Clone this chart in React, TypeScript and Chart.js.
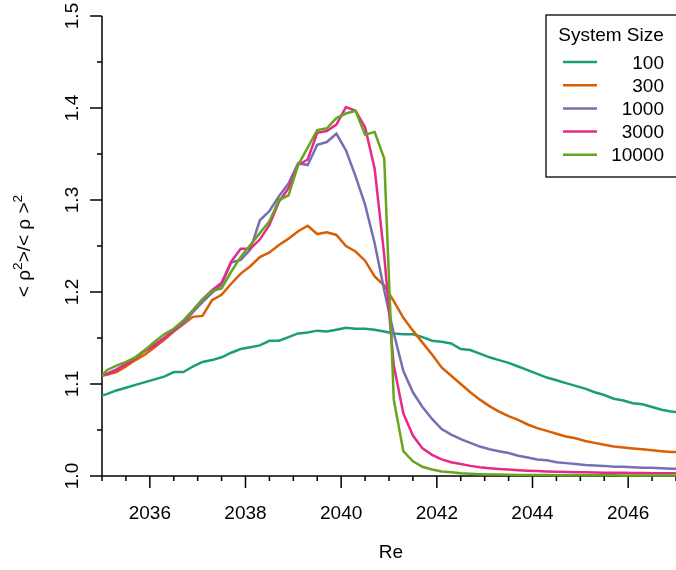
import React, { useEffect, useRef } from 'react';
import { Chart, registerables } from 'chart.js';

Chart.register(...registerables);

// ---------------- data ----------------
const reValues = [
  2034.9,
  2035.1, 2035.3, 2035.5, 2035.7, 2035.9,
  2036.1, 2036.3, 2036.5, 2036.7, 2036.9,
  2037.1, 2037.3, 2037.5, 2037.7, 2037.9,
  2038.1, 2038.3, 2038.5, 2038.7, 2038.9,
  2039.1, 2039.3, 2039.5, 2039.7, 2039.9,
  2040.1, 2040.3, 2040.5, 2040.7, 2040.9,
  2041.1, 2041.3, 2041.5, 2041.7, 2041.9,
  2042.1, 2042.3, 2042.5, 2042.7, 2042.9,
  2043.1, 2043.3, 2043.5, 2043.7, 2043.9,
  2044.1, 2044.3, 2044.5, 2044.7, 2044.9,
  2045.1, 2045.3, 2045.5, 2045.7, 2045.9,
  2046.1, 2046.3, 2046.5, 2046.7, 2046.9,
  2047.1,
];

const size100 = [
  1.086,
  1.089, 1.093, 1.096, 1.099, 1.102,
  1.105, 1.108, 1.113, 1.113, 1.119,
  1.124, 1.126, 1.129, 1.134, 1.138,
  1.140, 1.142, 1.147, 1.147, 1.151,
  1.155, 1.156, 1.158, 1.157, 1.159,
  1.161, 1.160, 1.160, 1.159, 1.157,
  1.155, 1.154, 1.154, 1.151, 1.147,
  1.146, 1.144, 1.138, 1.137, 1.133,
  1.129, 1.126, 1.123, 1.119, 1.115,
  1.111, 1.107, 1.104, 1.101, 1.098,
  1.095, 1.091, 1.088, 1.084, 1.082,
  1.079, 1.078, 1.075, 1.072, 1.070,
  1.069,
];

const size300 = [
  1.108,
  1.110, 1.113, 1.119, 1.126, 1.132,
  1.140, 1.148, 1.157, 1.165, 1.173,
  1.174, 1.191, 1.197, 1.209, 1.220,
  1.228, 1.238, 1.243, 1.251, 1.258,
  1.266, 1.272, 1.263, 1.265, 1.262,
  1.250, 1.244, 1.234, 1.217, 1.207,
  1.190, 1.172, 1.158, 1.145, 1.132,
  1.118, 1.109, 1.100, 1.091, 1.083,
  1.076, 1.070, 1.065, 1.061, 1.056,
  1.052, 1.049, 1.046, 1.043, 1.041,
  1.038, 1.036, 1.034, 1.032, 1.031,
  1.030, 1.029, 1.028, 1.027, 1.026,
  1.026,
];

const size1000 = [
  1.107,
  1.111, 1.116, 1.122, 1.129, 1.137,
  1.143, 1.150, 1.158, 1.166, 1.178,
  1.189, 1.199, 1.208, 1.232, 1.235,
  1.246, 1.278, 1.288, 1.304, 1.318,
  1.340, 1.338, 1.360, 1.363, 1.372,
  1.354, 1.326, 1.295, 1.253, 1.202,
  1.155, 1.114, 1.091, 1.075, 1.062,
  1.051, 1.045, 1.040, 1.036, 1.032,
  1.029, 1.027, 1.025, 1.022, 1.020,
  1.018, 1.017, 1.015, 1.014, 1.013,
  1.012, 1.0115, 1.011, 1.010, 1.010,
  1.0095, 1.009, 1.009, 1.0085, 1.008,
  1.008,
];

const size3000 = [
  1.107,
  1.111, 1.115, 1.121, 1.128, 1.136,
  1.142, 1.150, 1.158, 1.168, 1.180,
  1.192, 1.202, 1.210, 1.233, 1.247,
  1.247, 1.257, 1.273, 1.298, 1.313,
  1.338, 1.344, 1.373, 1.375, 1.382,
  1.401, 1.397, 1.379, 1.334, 1.240,
  1.120, 1.068, 1.044, 1.030, 1.023,
  1.018, 1.015, 1.013, 1.011, 1.0095,
  1.0085, 1.0077, 1.007, 1.0063, 1.0058,
  1.0054, 1.005, 1.0047, 1.0044, 1.0042,
  1.004, 1.0038, 1.0036, 1.0035, 1.0034,
  1.0033, 1.0032, 1.0031, 1.003, 1.003,
  1.003,
];

const size10000 = [
  1.103,
  1.115, 1.120, 1.124, 1.129, 1.137,
  1.146, 1.154, 1.160, 1.169, 1.180,
  1.192, 1.201, 1.204, 1.222, 1.238,
  1.251, 1.264, 1.277, 1.300, 1.305,
  1.338, 1.357, 1.376, 1.378, 1.389,
  1.394, 1.397, 1.371, 1.374, 1.345,
  1.083, 1.027, 1.016, 1.010, 1.007,
  1.005, 1.004, 1.003, 1.0025, 1.002,
  1.0017, 1.0015, 1.0013, 1.0012, 1.0011,
  1.001, 1.001, 1.0009, 1.0009, 1.0008,
  1.0008, 1.0007, 1.0007, 1.0007, 1.0006,
  1.0006, 1.0006, 1.0005, 1.0005, 1.0005,
  1.0005,
];

const seriesLabels = ['100', '300', '1000', '3000', '10000'];
const seriesValues = [size100, size300, size1000, size3000, size10000];
const seriesColors = ['#1B9E77', '#D95F02', '#7570B3', '#E7298A', '#66A61E'];

const xRange = [2035, 2047];
const yRange = [1.0, 1.5];
const xLabelTicks = [2036, 2038, 2040, 2042, 2044, 2046];
const yLabelTicks = ['1.0', '1.1', '1.2', '1.3', '1.4', '1.5'];
const xTitle = 'Re';
const legendTitle = 'System Size';

// ---------------- styling ----------------
const FONT_FAMILY = '"Liberation Sans", Arial, Helvetica, sans-serif';
const FONT_SIZE = 19;

function strokeLine(ctx: CanvasRenderingContext2D, x1: number, y1: number, x2: number, y2: number) {
  ctx.beginPath();
  ctx.moveTo(x1, y1);
  ctx.lineTo(x2, y2);
  ctx.stroke();
}

const axesPlugin = {
  id: 'rStyleAxes',
  beforeDatasetsDraw(chart: any) {
    const ctx: CanvasRenderingContext2D = chart.ctx;
    const xs = chart.scales.x;
    const ys = chart.scales.y;
    ctx.save();
    ctx.strokeStyle = '#000';
    ctx.fillStyle = '#000';
    ctx.lineWidth = 1.5;
    ctx.lineCap = 'butt';

    const axisY = ys.getPixelForValue(yRange[0]);
    const axisX = xs.getPixelForValue(xRange[0]);

    // x axis line + ticks
    strokeLine(ctx, axisX, axisY, xs.getPixelForValue(xRange[1]) + 2, axisY);
    const nx = Math.round((xRange[1] - xRange[0]) / 0.5);
    for (let k = 0; k <= nx; k++) {
      const v = xRange[0] + k * 0.5;
      const px = xs.getPixelForValue(v);
      const major = xLabelTicks.indexOf(v) >= 0;
      strokeLine(ctx, px, axisY, px, axisY + (major ? 12 : 5));
    }
    ctx.font = `${FONT_SIZE}px ${FONT_FAMILY}`;
    ctx.textAlign = 'center';
    ctx.textBaseline = 'alphabetic';
    for (const v of xLabelTicks) {
      ctx.fillText(String(v), xs.getPixelForValue(v), axisY + 43);
    }
    ctx.fillText(xTitle, (chart.chartArea.left + chart.chartArea.right) / 2 + 2, axisY + 82);

    // y axis line + ticks
    const topY = ys.getPixelForValue(yRange[1]);
    strokeLine(ctx, axisX, topY, axisX, axisY);
    const ny = Math.round((yRange[1] - yRange[0]) / 0.05);
    for (let k = 0; k <= ny; k++) {
      const v = yRange[0] + k * 0.05;
      const py = ys.getPixelForValue(v);
      strokeLine(ctx, axisX - (k % 2 === 0 ? 12 : 5), py, axisX, py);
    }
    for (const lab of yLabelTicks) {
      const py = ys.getPixelForValue(parseFloat(lab));
      ctx.save();
      ctx.translate(axisX - 24, py);
      ctx.rotate(-Math.PI / 2);
      ctx.fillText(lab, 0, 0);
      ctx.restore();
    }

    // y title: < rho^2 >/< rho >^2
    const parts: Array<[string, boolean]> = [
      ['< \u03c1', false],
      ['2', true],
      ['>/< \u03c1 >', false],
      ['2', true],
    ];
    const mainFont = `${FONT_SIZE}px ${FONT_FAMILY}`;
    const supFont = `${FONT_SIZE * 0.72}px ${FONT_FAMILY}`;
    let total = 0;
    for (const [t, sup] of parts) {
      ctx.font = sup ? supFont : mainFont;
      total += ctx.measureText(t).width;
    }
    const cy = (ys.getPixelForValue(yRange[0]) + ys.getPixelForValue(yRange[1])) / 2;
    ctx.save();
    ctx.translate(axisX - 72, cy);
    ctx.rotate(-Math.PI / 2);
    ctx.textAlign = 'left';
    let cx = -total / 2;
    for (const [t, sup] of parts) {
      ctx.font = sup ? supFont : mainFont;
      ctx.fillText(t, cx, sup ? -8 : 0);
      cx += ctx.measureText(t).width;
    }
    ctx.restore();

    ctx.restore();
  },
};

const legendPlugin = {
  id: 'rStyleLegend',
  afterDatasetsDraw(chart: any) {
    const ctx: CanvasRenderingContext2D = chart.ctx;
    const ca = chart.chartArea;
    const left = ca.right - 130;
    const top = ca.top - 1;
    const right = ca.right + 2;
    const bottom = ca.top + 161;
    ctx.save();
    ctx.fillStyle = '#fff';
    ctx.fillRect(left, top, right - left, bottom - top);
    ctx.strokeStyle = '#000';
    ctx.lineWidth = 1.3;
    ctx.strokeRect(left, top, right - left, bottom - top);

    ctx.fillStyle = '#000';
    ctx.font = `${FONT_SIZE}px ${FONT_FAMILY}`;
    ctx.textBaseline = 'alphabetic';
    ctx.textAlign = 'center';
    ctx.fillText(legendTitle, (left + right) / 2 - 1, top + 26);

    const datasets = chart.data.datasets;
    ctx.textAlign = 'right';
    for (let i = 0; i < datasets.length; i++) {
      const yy = top + 47 + i * 23.2;
      ctx.strokeStyle = datasets[i].borderColor;
      ctx.lineWidth = 2.5;
      strokeLine(ctx, left + 17, yy, left + 51, yy);
      ctx.fillStyle = '#000';
      ctx.fillText(datasets[i].label, left + 118, yy + 6.5);
    }
    ctx.restore();
  },
};

export default function App() {
  const canvasRef = useRef<HTMLCanvasElement | null>(null);

  useEffect(() => {
    const canvas = canvasRef.current;
    if (!canvas) return;
    const datasets = seriesLabels.map((label, i) => ({
      label,
      data: reValues.map((x, j) => ({ x, y: seriesValues[i][j] })),
      borderColor: seriesColors[i],
      backgroundColor: seriesColors[i],
      borderWidth: 2.5,
      pointRadius: 0,
      tension: 0,
      fill: false,
      order: seriesLabels.length - i,
      clip: { left: 0, top: 2, right: 0, bottom: 3 },
    }));
    const chart = new Chart(canvas, {
      type: 'line',
      data: { datasets },
      options: {
        animation: false,
        responsive: false,
        events: [],
        layout: { padding: { left: 102, top: 16, right: 0, bottom: 94 } },
        plugins: {
          legend: { display: false },
          tooltip: { enabled: false },
        },
        scales: {
          x: { type: 'linear', min: xRange[0], max: xRange[1], display: false },
          y: { type: 'linear', min: yRange[0], max: yRange[1], display: false },
        },
      },
      plugins: [axesPlugin, legendPlugin],
    } as any);
    return () => chart.destroy();
  }, []);

  return (
    <div style={{ position: 'fixed', left: 0, top: 0, width: 676, height: 570, background: '#fff' }}>
      <canvas ref={canvasRef} width={676} height={570} style={{ display: 'block' }} />
    </div>
  );
}
